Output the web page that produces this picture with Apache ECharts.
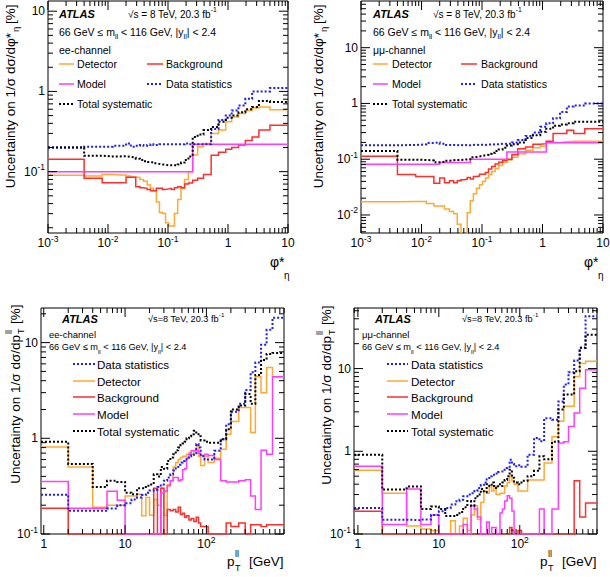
<!DOCTYPE html>
<html><head><meta charset="utf-8">
<script src="https://cdn.jsdelivr.net/npm/echarts@6/dist/echarts.min.js"></script>
<style>html,body{margin:0;padding:0;background:#fff}#c{width:610px;height:577px}</style>
</head><body><div id="c"></div>
<script>
const FONT = "'Liberation Sans', Arial, Helvetica, sans-serif";

// ---------- bin edges ----------
const phiEdges = [0, 0.004, 0.008, 0.012, 0.016, 0.020, 0.024, 0.029, 0.034, 0.039, 0.045, 0.051, 0.057, 0.064, 0.072, 0.081, 0.091, 0.102, 0.114, 0.128, 0.145, 0.165, 0.189, 0.219, 0.258, 0.312, 0.391, 0.524, 0.695, 0.918, 1.153, 1.496, 1.947, 2.522, 3.277, 5, 10];
const ptEdges = [0, 2, 4, 6, 8, 10, 12, 14, 16, 18, 20, 22.5, 25, 27.5, 30, 33, 36, 39, 42, 45, 48, 51, 54, 57, 61, 65, 70, 75, 80, 85, 95, 105, 125, 150, 175, 200, 250, 300, 350, 400, 470, 550, 650, 900];

// ---------- ee, phi*_eta ----------
const eePhiDetector = [0.090, 0.088, 0.092, 0.091, 0.091, 0.088, 0.086, 0.085, 0.080, 0.076, 0.068, 0.062, 0.058, 0.042, 0.031, 0.030, 0.023, 0.021, 0.021, 0.030, 0.045, 0.062, 0.080, 0.100, 0.161, 0.204, 0.224, 0.30, 0.33, 0.42, 0.48, 0.53, 0.58, 0.62, 0.64, 0.59];
const eePhiBackground = [0.143, 0.083, 0.073, 0.073, 0.073, 0.085, 0.085, 0.065, 0.063, 0.062, 0.060, 0.058, 0.058, 0.062, 0.062, 0.060, 0.061, 0.062, 0.060, 0.063, 0.065, 0.063, 0.070, 0.072, 0.078, 0.083, 0.092, 0.16, 0.175, 0.19, 0.20, 0.215, 0.245, 0.27, 0.33, 0.38];
const eePhiModel = [0.1, 0.1, 0.1, 0.1, 0.1, 0.1, 0.1, 0.1, 0.1, 0.1, 0.1, 0.1, 0.1, 0.1, 0.1, 0.1, 0.1, 0.1, 0.1, 0.1, 0.1, 0.1, 0.1, 0.1, 0.22, 0.22, 0.22, 0.22, 0.22, 0.22, 0.22, 0.22, 0.22, 0.22, 0.22, 0.22];
const eePhiDataStat = [0.20, 0.205, 0.205, 0.21, 0.21, 0.225, 0.205, 0.21, 0.215, 0.21, 0.215, 0.22, 0.215, 0.215, 0.22, 0.22, 0.22, 0.22, 0.22, 0.22, 0.22, 0.22, 0.225, 0.22, 0.22, 0.22, 0.22, 0.34, 0.44, 0.50, 0.58, 0.67, 0.81, 1.0, 1.0, 1.1];
const eePhiTotalSyst = [0.20, 0.158, 0.155, 0.155, 0.156, 0.153, 0.15, 0.145, 0.14, 0.135, 0.132, 0.13, 0.127, 0.125, 0.123, 0.122, 0.12, 0.12, 0.12, 0.12, 0.123, 0.13, 0.14, 0.155, 0.27, 0.29, 0.33, 0.36, 0.42, 0.47, 0.50, 0.55, 0.60, 0.64, 0.76, 0.74];

// ---------- mumu, phi*_eta ----------
const mmPhiDetector = [0.0172, 0.0174, 0.0174, 0.016, 0.0145, 0.0145, 0.0128, 0.0115, 0.0105, 0.0068, 0.004, 0.0045, 0.011, 0.018, 0.024, 0.030, 0.035, 0.040, 0.046, 0.053, 0.060, 0.068, 0.077, 0.088, 0.097, 0.108, 0.125, 0.145, 0.16, 0.17, 0.20, 0.20, 0.205, 0.21, 0.21, 0.21];
const mmPhiBackground = [0.113, 0.053, 0.049, 0.049, 0.037, 0.046, 0.038, 0.041, 0.038, 0.041, 0.043, 0.044, 0.047, 0.044, 0.049, 0.050, 0.054, 0.054, 0.058, 0.067, 0.074, 0.082, 0.088, 0.095, 0.10, 0.12, 0.154, 0.165, 0.185, 0.19, 0.21, 0.29, 0.29, 0.33, 0.29, 0.35];
const mmPhiModel = [0.081, 0.081, 0.081, 0.081, 0.081, 0.087, 0.087, 0.087, 0.087, 0.087, 0.087, 0.087, 0.087, 0.10, 0.10, 0.10, 0.10, 0.10, 0.10, 0.10, 0.10, 0.10, 0.10, 0.10, 0.135, 0.135, 0.135, 0.135, 0.135, 0.135, 0.197, 0.197, 0.197, 0.197, 0.197, 0.197];
const mmPhiDataStat = [0.178, 0.18, 0.185, 0.195, 0.20, 0.19, 0.18, 0.18, 0.178, 0.18, 0.178, 0.18, 0.178, 0.18, 0.182, 0.18, 0.182, 0.18, 0.183, 0.183, 0.185, 0.185, 0.19, 0.19, 0.19, 0.20, 0.22, 0.26, 0.30, 0.38, 0.44, 0.54, 0.70, 0.88, 0.92, 1.0];
const mmPhiTotalSyst = [0.14, 0.098, 0.097, 0.095, 0.088, 0.09, 0.094, 0.096, 0.097, 0.097, 0.098, 0.099, 0.10, 0.108, 0.11, 0.112, 0.115, 0.118, 0.12, 0.125, 0.13, 0.14, 0.15, 0.16, 0.176, 0.185, 0.20, 0.24, 0.27, 0.31, 0.35, 0.40, 0.42, 0.44, 0.47, 0.47];

// ---------- ee, pT ----------
const eePtDataStat = [0.257, 0.175, 0.175, 0.185, 0.20, 0.21, 0.23, 0.24, 0.255, 0.27, 0.285, 0.29, 0.31, 0.33, 0.36, 0.39, 0.42, 0.46, 0.50, 0.53, 0.56, 0.58, 0.60, 0.63, 0.65, 0.67, 0.70, 0.87, 0.80, 0.65, 0.60, 0.60, 0.74, 0.98, 1.4, 1.9, 2.3, 3.2, 4.9, 6.2, 9.5, 13.6, 18.2];
const eePtDetector = [0.81, 0.50, 0.19, 0.20, 0.20, 0.25, 0.25, 0.26, 0.155, 0.24, 0.157, 0.23, 0.20, 0.30, 0.157, 0.33, 0.36, 0.50, 0.56, 0.60, 0.63, 0.65, 0.65, 0.68, 0.71, 0.68, 0.74, 0.83, 0.65, 0.52, 0.65, 0.56, 0.62, 0.77, 1.1, 1.5, 2.1, 2.1, 1.15, 4.4, 3.0, 5.5, 4.4];
const eePtBackground = [0.186, 0.1, 0.1, 0.1, 0.1, 0.1, 0.1, 0.1, 0.1, 0.1, 0.1, 0.3, 0.1, 0.3, 0.1, 0.18, 0.175, 0.18, 0.17, 0.19, 0.16, 0.165, 0.15, 0.155, 0.14, 0.145, 0.135, 0.15, 0.13, 0.12, 0.12, 0.1, 0.1, 0.1, 0.13, 0.12, 0.13, 0.1, 0.125, 0.125, 0.12, 0.125, 0.125];
const eePtModel = [0.354, 0.186, 0.186, 0.28, 0.225, 0.1, 0.1, 0.1, 0.1, 0.1, 0.1, 0.1, 0.1, 0.27, 0.28, 0.32, 0.36, 0.39, 0.39, 0.36, 0.37, 0.47, 0.48, 0.62, 0.68, 0.74, 0.74, 0.74, 0.70, 0.66, 0.68, 0.66, 0.60, 0.36, 0.35, 0.35, 0.36, 0.37, 0.25, 0.18, 0.75, 0.68, 4.4];
const eePtTotalSyst = [0.92, 0.54, 0.31, 0.36, 0.35, 0.27, 0.26, 0.30, 0.30, 0.32, 0.33, 0.42, 0.40, 0.50, 0.48, 0.58, 0.63, 0.68, 0.75, 0.80, 0.85, 0.88, 0.92, 1.0, 1.05, 1.1, 1.2, 1.15, 1.05, 0.95, 0.92, 0.90, 0.90, 0.98, 1.24, 2.0, 2.2, 2.9, 2.3, 4.6, 6.6, 7.6, 7.8];

// ---------- mumu, pT ----------
const mmPtDataStat = [0.206, 0.149, 0.147, 0.15, 0.17, 0.188, 0.206, 0.227, 0.249, 0.26, 0.286, 0.30, 0.31, 0.33, 0.36, 0.39, 0.42, 0.46, 0.50, 0.52, 0.54, 0.53, 0.56, 0.57, 0.60, 0.63, 0.65, 0.79, 0.70, 0.66, 0.68, 0.65, 0.91, 1.45, 1.32, 2.5, 2.4, 4.0, 6.4, 9.0, 12.5, 17.8, 43];
const mmPtDetector = [0.59, 0.31, 0.125, 0.115, 0.11, 0.10, 0.10, 0.145, 0.10, 0.125, 0.155, 0.11, 0.17, 0.22, 0.15, 0.24, 0.33, 0.31, 0.37, 0.33, 0.38, 0.30, 0.30, 0.31, 0.31, 0.38, 0.42, 0.50, 0.44, 0.40, 0.33, 0.33, 0.45, 0.45, 0.45, 0.72, 1.5, 2.3, 3.5, 3.5, 8.0, 11.5, 12.3];
const mmPtBackground = [0.188, 0.1, 0.1, 0.1, 0.1, 0.1, 0.1, 0.1, 0.1, 0.1, 0.1, 0.1, 0.1, 0.1, 0.1, 0.1, 0.1, 0.1, 0.1, 0.1, 0.1, 0.1, 0.1, 0.1, 0.1, 0.1, 0.1, 0.12, 0.11, 0.1, 0.11, 0.1, 0.1, 0.1, 0.1, 0.1, 0.1, 0.1, 0.1, 0.1, 0.44, 0.16, 0.237];
const mmPtModel = [0.66, 0.13, 0.35, 0.13, 0.17, 0.1, 0.1, 0.1, 0.1, 0.1, 0.13, 0.1, 0.22, 0.20, 0.16, 0.1, 0.1, 0.14, 0.1, 0.12, 0.12, 0.1, 0.1, 0.18, 0.20, 0.25, 0.29, 0.27, 0.19, 0.1, 0.1, 0.1, 0.1, 0.1, 0.2, 0.1, 0.2, 1.26, 1.3, 2.0, 2.9, 5.8, 9.7];
const mmPtTotalSyst = [0.91, 0.344, 0.375, 0.20, 0.215, 0.20, 0.165, 0.165, 0.17, 0.185, 0.21, 0.25, 0.22, 0.27, 0.30, 0.35, 0.32, 0.40, 0.38, 0.42, 0.38, 0.36, 0.40, 0.38, 0.42, 0.45, 0.50, 0.60, 0.48, 0.42, 0.40, 0.44, 0.50, 0.58, 0.87, 0.80, 1.3, 3.2, 4.85, 4.85, 9.3, 17.8, 25.7];

// ---------- labels ----------
const seriesNames = { det: 'Detector', bkg: 'Background', mod: 'Model', stat: 'Data statistics', sys: 'Total systematic' };
const channelLabels = ['ee-channel', 'μμ-channel', 'ee-channel', 'μμ-channel'];

// ---------- styles ----------
const STY = {
  det: { color: '#ffa833', dash: null, width: 1.5 },
  bkg: { color: '#ff2e2e', dash: null, width: 1.5 },
  mod: { color: '#ff3dff', dash: null, width: 1.5 },
  stat: { color: '#1c1cff', dash: [2, 2], width: 2 },
  sys: { color: '#000000', dash: [2, 2], width: 2 }
};

const panels = [
  { grid: { left: 48, top: 1, width: 240, height: 232 }, xr: [0.001, 10], yr: [0.0172, 13.4], edges: phiEdges,
    data: { det: eePhiDetector, bkg: eePhiBackground, mod: eePhiModel, stat: eePhiDataStat, sys: eePhiTotalSyst } },
  { grid: { left: 361, top: 1, width: 242, height: 232 }, xr: [0.001, 10], yr: [0.00475, 68.7], edges: phiEdges,
    data: { det: mmPhiDetector, bkg: mmPhiBackground, mod: mmPhiModel, stat: mmPhiDataStat, sys: mmPhiTotalSyst } },
  { grid: { left: 41, top: 308, width: 243, height: 226 }, xr: [0.925, 900], yr: [0.1, 23], edges: ptEdges,
    data: { det: eePtDetector, bkg: eePtBackground, mod: eePtModel, stat: eePtDataStat, sys: eePtTotalSyst } },
  { grid: { left: 354, top: 308, width: 243, height: 226 }, xr: [0.895, 900], yr: [0.1, 54], edges: ptEdges,
    data: { det: mmPtDetector, bkg: mmPtBackground, mod: mmPtModel, stat: mmPtDataStat, sys: mmPtTotalSyst } }
];

function stepData(edges, vals, xmin) {
  const d = [];
  for (let i = 0; i < vals.length; i++) d.push([Math.max(edges[i], xmin), vals[i]]);
  d.push([edges[vals.length], vals[vals.length - 1]]);
  return d;
}
function logTicks(min, max) {
  const major = [], minor = [];
  for (let e = Math.floor(Math.log10(min)) - 1; e <= Math.ceil(Math.log10(max)); e++) {
    for (let m = 1; m <= 9; m++) {
      const v = m * Math.pow(10, e);
      if (v >= min * (1 - 1e-9) && v <= max * (1 + 1e-9)) (m === 1 ? major : minor).push(v);
    }
  }
  return { major, minor };
}
function powLabel(v) {
  const lg = Math.log10(v), e = Math.round(lg);
  if (Math.abs(lg - e) > 1e-6) return '';
  if (e === 0) return '{b|1}';
  if (e === 1) return '{b|10}';
  return '{b|10}{s|' + e + '}';
}
const labelRich = {
  b: { fontSize: 12, fontFamily: FONT, lineHeight: 18, verticalAlign: 'middle', color: '#000' },
  s: { fontSize: 8.5, fontFamily: FONT, lineHeight: 9, verticalAlign: 'top', color: '#000' }
};

const grids = [], xAxes = [], yAxes = [], series = [], graphics = [];
panels.forEach((p, i) => {
  grids.push(Object.assign({ show: true, borderColor: '#000', borderWidth: 1, backgroundColor: 'transparent', containLabel: false, outerBoundsMode: 'none' }, p.grid));
  xAxes.push({ type: 'log', logBase: 10, gridIndex: i, min: p.xr[0], max: p.xr[1],
    axisLine: { show: false }, axisTick: { show: false }, splitLine: { show: false }, minorTick: { show: false },
    axisLabel: { interval: 0, showMinLabel: true, showMaxLabel: true, margin: 1, formatter: powLabel, rich: labelRich, color: '#000' } });
  yAxes.push({ type: 'log', logBase: 10, gridIndex: i, min: p.yr[0], max: p.yr[1],
    axisLine: { show: false }, axisTick: { show: false }, splitLine: { show: false }, minorTick: { show: false },
    axisLabel: { interval: 0, showMinLabel: true, showMaxLabel: true, margin: 3, formatter: powLabel, rich: labelRich, color: '#000' } });
  ['det', 'bkg', 'mod', 'stat', 'sys'].forEach((k, j) => {
    const s = STY[k];
    series.push({ type: 'line', name: seriesNames[k] + ' ' + i, xAxisIndex: i, yAxisIndex: i,
      data: stepData(p.edges, p.data[k], p.xr[0]), step: 'end', showSymbol: false, symbol: 'none',
      clip: true, silent: true, animation: false, z: 2 + j,
      lineStyle: { color: s.color, width: s.width, type: s.dash || 'solid', cap: 'butt', join: 'miter' } });
  });
  // axis tick marks (ATLAS style: inside, on all four sides)
  const xt = logTicks(p.xr[0], p.xr[1]), yt = logTicks(p.yr[0], p.yr[1]);
  const td = [];
  xt.major.forEach(v => td.push([v, p.yr[0], 0, 1]));
  xt.minor.forEach(v => td.push([v, p.yr[0], 0, 0]));
  yt.major.forEach(v => td.push([p.xr[0], v, 1, 1]));
  yt.minor.forEach(v => td.push([p.xr[0], v, 1, 0]));
  series.push({ type: 'custom', xAxisIndex: i, yAxisIndex: i, data: td, silent: true, animation: false, z: 20,
    dimensions: ['x', 'y', 'k', 'm'], encode: { x: 0, y: 1 },
    renderItem: (params, api) => {
      const cs = params.coordSys;
      const k = api.value(2), L = api.value(3) ? 9 : 5;
      const pt = api.coord([api.value(0), api.value(1)]);
      const st = { stroke: '#000', lineWidth: 1 };
      if (k === 0) {
        const x = pt[0];
        return { type: 'group', children: [
          { type: 'line', shape: { x1: x, y1: cs.y + cs.height, x2: x, y2: cs.y + cs.height - L }, style: st },
          { type: 'line', shape: { x1: x, y1: cs.y, x2: x, y2: cs.y + L }, style: st }] };
      }
      const y = pt[1];
      return { type: 'group', children: [
        { type: 'line', shape: { x1: cs.x, y1: y, x2: cs.x + L, y2: y }, style: st },
        { type: 'line', shape: { x1: cs.x + cs.width, y1: y, x2: cs.x + cs.width - L, y2: y }, style: st }] };
    } });
});

// ---------- text helpers ----------
function txt(x, y, text, size, extra) {
  return { type: 'text', x: x, y: y, silent: true, z: 50,
    style: Object.assign({ text: text, fontSize: size, fontFamily: FONT, fill: '#000',
      align: 'left', verticalAlign: 'middle', textAlign: 'left', textVerticalAlign: 'middle' }, extra || {}) };
}
function richTxt(x, y, text, size) {
  return txt(x, y, text, size, { lineHeight: size + 6, rich: {
    sub: { fontSize: size * 0.68, fontFamily: FONT, lineHeight: size * 0.68, verticalAlign: 'bottom', fill: '#000' },
    sup: { fontSize: size * 0.68, fontFamily: FONT, lineHeight: size * 0.68, verticalAlign: 'top', fill: '#000' } } });
}
function legLine(x1, x2, y, k) {
  const s = STY[k];
  return { type: 'line', silent: true, z: 50, shape: { x1: x1, y1: y, x2: x2, y2: y },
    style: { stroke: s.color, lineWidth: s.width, lineDash: s.dash || null } };
}

// ---------- headers ----------
function topHeader(x0, sx, chan) {
  graphics.push(txt(x0, 14, 'ATLAS', 11, { fontWeight: 'bold', fontStyle: 'italic' }));
  graphics.push(richTxt(sx, 14, '√s = 8 TeV, 20.3 fb{sup|-1}', 10));
  graphics.push(richTxt(x0, 32, '66 GeV ≤ m{sub|ll} < 116 GeV, |y{sub|ll}| < 2.4', 10.5));
  graphics.push(txt(x0, 50, chan, 10.5));
}
function topLegend(l1, t1, l2, t2) {
  const rows = [['det', 'bkg'], ['mod', 'stat'], ['sys', null]];
  const ys = [64, 84, 104];
  rows.forEach((r, i) => {
    const a = r[0], b = r[1];
    graphics.push(legLine(l1[0], l1[1], ys[i], a));
    graphics.push(txt(t1, ys[i], seriesNames[a], 10.6));
    if (b) { graphics.push(legLine(l2[0], l2[1], ys[i], b)); graphics.push(txt(t2, ys[i], seriesNames[b], 10.6)); }
  });
}
topHeader(59, 128, channelLabels[0]);
topLegend([59, 74], 77, [147, 163], 166);
topHeader(373, 433, channelLabels[1]);
topLegend([373, 388], 392, [461, 477], 481);

function botHeader(ax, sx, x0, chan) {
  graphics.push(txt(ax, 319, 'ATLAS', 11, { fontWeight: 'bold', fontStyle: 'italic' }));
  graphics.push(richTxt(sx, 319, '√s=8 TeV, 20.3 fb{sup|-1}', 9.2));
  graphics.push(txt(x0, 334, chan, 9.5));
  graphics.push(richTxt(x0, 347, '66 GeV ≤ m{sub|ll} < 116 GeV, |y{sub|ll}| < 2.4', 9.2));
}
function botLegend(l, t) {
  const order = ['stat', 'det', 'bkg', 'mod', 'sys'];
  const ys = [364, 381, 397, 414, 431];
  order.forEach((k, i) => {
    graphics.push(legLine(l[0], l[1], ys[i], k));
    graphics.push(txt(t, ys[i], seriesNames[k], 11.6));
  });
}
botHeader(62, 148, 49, channelLabels[2]);
botLegend([73, 95], 97);
botHeader(375, 462, 362, channelLabels[3]);
botLegend([387, 408], 411);

// ---------- axis titles ----------
function phiYTitle(cx, yb) {
  graphics.push({ type: 'group', x: cx, y: yb, rotation: Math.PI / 2, silent: true, children: [
    txt(197, 0, 'Uncertainty on 1/σ dσ/dφ*', 13.5, { align: 'right', textAlign: 'right' }),
    txt(198, 5, 'η', 9.5),
    txt(206, 0, '[%]', 13.5)
  ] });
}
function ptYTitle(cx, yb) {
  graphics.push({ type: 'group', x: cx, y: yb, rotation: Math.PI / 2, silent: true, children: [
    txt(167, 0, 'Uncertainty on 1/σ dσ/dp', 13.5, { align: 'right', textAlign: 'right' }),
    txt(168, -6, 'll', 9),
    txt(168, 6, 'T', 9),
    txt(178, 0, '[%]', 13.5)
  ] });
}
phiYTitle(10, 230);
phiYTitle(318, 230);
ptYTitle(15, 502);
ptYTitle(326, 503);

function phiXTitle(x) {
  graphics.push(txt(x, 262, 'φ*', 14));
  graphics.push(txt(x + 14, 275, 'η', 10));
}
function ptXTitle(x) {
  graphics.push(txt(x, 561, 'p', 13.5));
  graphics.push(txt(x + 8, 554, 'll', 9));
  graphics.push(txt(x + 8, 568, 'T', 9));
  graphics.push(txt(x + 22, 561, '[GeV]', 13.5));
}
phiXTitle(270);
phiXTitle(584);
ptXTitle(227);
ptXTitle(540);

const chart = echarts.init(document.getElementById('c'), null, { renderer: 'svg', width: 610, height: 577 });
chart.setOption({
  animation: false,
  backgroundColor: '#fff',
  textStyle: { fontFamily: FONT },
  grid: grids, xAxis: xAxes, yAxis: yAxes, series: series, graphic: graphics
});
</script>
</body></html>
